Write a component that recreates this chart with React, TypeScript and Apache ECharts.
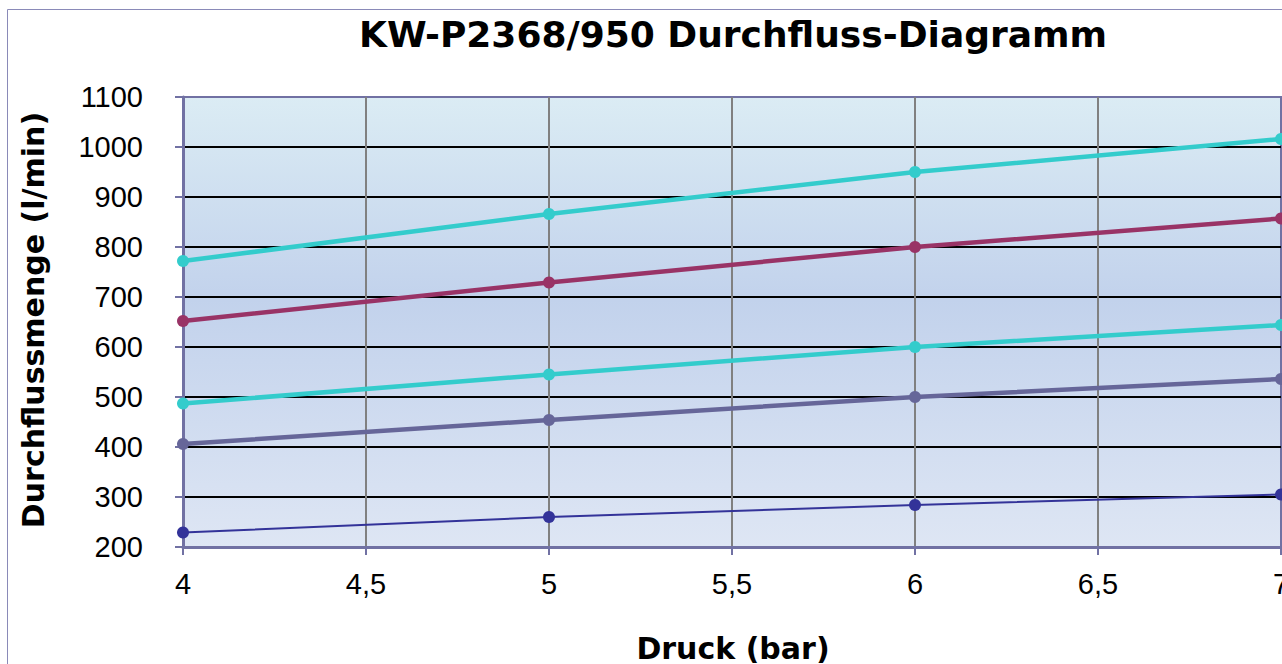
import React, { useEffect, useRef } from "react";
import * as echarts from "echarts";

const pressure = [4, 5, 6, 7];
const seriesA = [772, 866, 950, 1016];
const seriesB = [652, 729, 800, 857];
const seriesC = [487, 545, 600, 644];
const seriesD = [406, 454, 500, 536];
const seriesE = [229, 260, 284, 305];

const titleText = "KW-P2368/950 Durchfluss-Diagramm";
const xTitle = "Druck (bar)";
const yTitle = "Durchflussmenge (l/min)";

const FONT = "'Liberation Sans', Arial, sans-serif";
const BOLD_FONT = "'DejaVu Sans', 'Liberation Sans', Arial, sans-serif";

function pairs(vals: number[]) {
  return pressure.map((p, i) => [p, vals[i]]);
}

export default function App() {
  const ref = useRef<HTMLDivElement>(null);
  useEffect(() => {
    if (!ref.current) return;
    const chart = echarts.init(ref.current, null, { renderer: "svg" });
    const axisColor = "#7171A3";
    const mk = (name: string, vals: number[], color: string, width: number, size: number) => ({
      name,
      type: "line",
      data: pairs(vals),
      symbol: "circle",
      symbolSize: size,
      showSymbol: true,
      lineStyle: { color, width },
      itemStyle: { color, borderWidth: 0 },
      z: 5,
    });
    chart.setOption({
      animation: false,
      backgroundColor: "#ffffff",
      title: {
        text: titleText,
        left: 733,
        textAlign: "center",
        top: 16,
        padding: 0,
        textStyle: { fontFamily: BOLD_FONT, fontWeight: "bold", fontSize: 36, color: "#000" },
      },
      graphic: [
        {
          type: "rect",
          shape: { x: 7.5, y: 9.5, width: 1400, height: 800 },
          style: { fill: "none", stroke: "#8A8AB8", lineWidth: 1 },
          silent: true,
          z: -1,
        },
        {
          type: "text",
          x: 33,
          y: 320,
          rotation: Math.PI / 2,
          style: {
            text: yTitle,
            fontFamily: BOLD_FONT,
            fontWeight: "bold",
            fontSize: 30,
            fill: "#000",
            textAlign: "center",
            textVerticalAlign: "middle",
          },
        },
        {
          type: "text",
          x: 733,
          y: 648,
          style: {
            text: xTitle,
            fontFamily: BOLD_FONT,
            fontWeight: "bold",
            fontSize: 30,
            fill: "#000",
            textAlign: "center",
            textVerticalAlign: "middle",
          },
        },
      ],
      grid: {
        left: 183,
        top: 97,
        width: 1098,
        height: 450,
        outerBoundsMode: "none",
        containLabel: false,
        show: true,
        backgroundColor: new echarts.graphic.LinearGradient(0, 0, 0, 1, [
          { offset: 0, color: "#DBECF4" },
          { offset: 0.45, color: "#C2D2EC" },
          { offset: 1, color: "#DEE6F4" },
        ]),
        borderColor: axisColor,
        borderWidth: 2,
      },
      xAxis: {
        type: "value",
        min: 4,
        max: 7,
        interval: 0.5,
        axisLine: { show: true, onZero: false, lineStyle: { color: axisColor, width: 3 } },
        axisTick: { show: true, length: 8, lineStyle: { color: axisColor, width: 2 } },
        axisLabel: {
          margin: 22,
          fontSize: 29,
          fontFamily: FONT,
          color: "#000",
          hideOverlap: false,
          formatter: (v: number) => String(v).replace(".", ","),
        },
        splitLine: {
          show: true,
          showMinLine: false,
          showMaxLine: false,
          lineStyle: { color: "#808080", width: 2 },
        },
      },
      yAxis: {
        type: "value",
        min: 200,
        max: 1100,
        interval: 100,
        axisLine: { show: true, onZero: false, lineStyle: { color: axisColor, width: 3 } },
        axisTick: { show: true, length: 8, lineStyle: { color: axisColor, width: 2 } },
        axisLabel: {
          margin: 40,
          fontSize: 29,
          fontFamily: FONT,
          color: "#000",
          formatter: (v: number) => String(v),
        },
        splitLine: {
          show: true,
          showMinLine: false,
          showMaxLine: false,
          lineStyle: { color: "#000000", width: 2 },
        },
      },
      series: [
        mk("A", seriesA, "#33CCCC", 4.5, 12),
        mk("B", seriesB, "#993366", 4.5, 12),
        mk("C", seriesC, "#33CCCC", 4.5, 12),
        mk("D", seriesD, "#666699", 4.5, 12),
        mk("E", seriesE, "#333399", 2, 12),
      ],
    });
    return () => chart.dispose();
  }, []);
  return (
    <div
      ref={ref}
      style={{ position: "fixed", left: 0, top: 0, width: 1282, height: 664 }}
    />
  );
}
